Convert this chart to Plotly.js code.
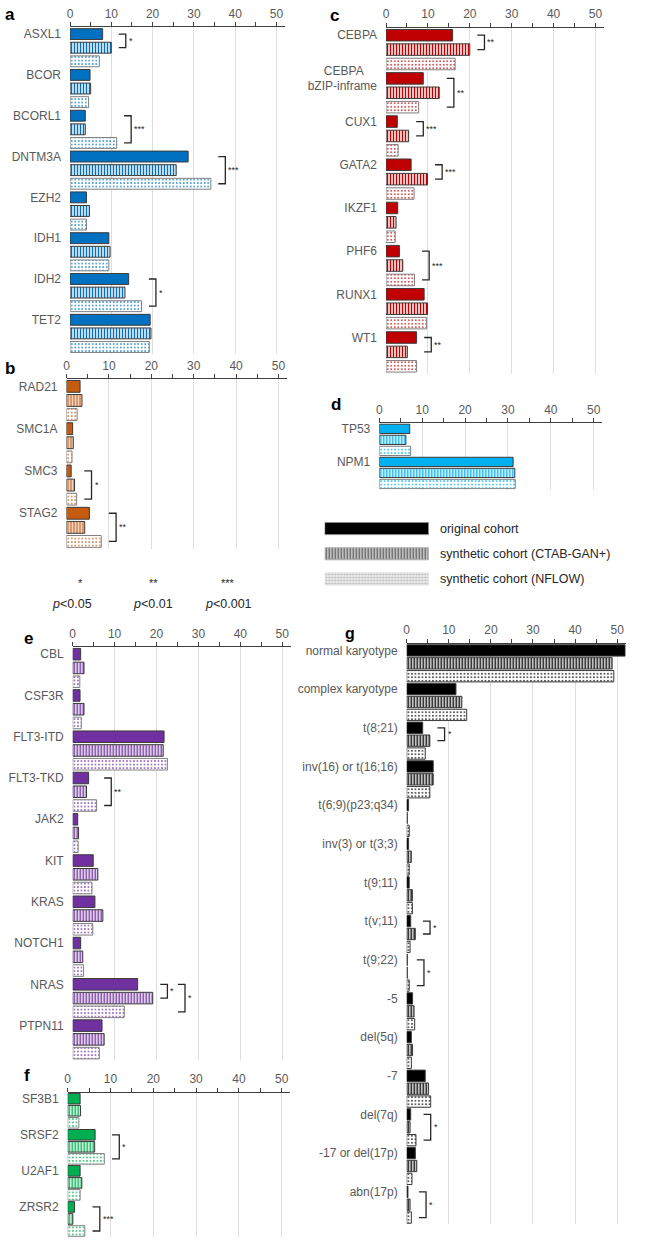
<!DOCTYPE html>
<html><head><meta charset="utf-8">
<script src="https://cdn.plot.ly/plotly-3.0.1.min.js"></script>
<style>html,body{margin:0;padding:0;background:#fff}</style>
</head><body><div id="chart" style="width:645px;height:1249px"></div>
<script>
// ---------- DATA ----------
const seriesNames = ['original cohort', 'synthetic cohort (CTAB-GAN+)', 'synthetic cohort (NFLOW)'];
const seriesKeys = ['original', 'CTAB-GAN+', 'NFLOW'];

const aCategories = ['ASXL1', 'BCOR', 'BCORL1', 'DNTM3A', 'EZH2', 'IDH1', 'IDH2', 'TET2'];
const aOriginal = [7.9, 4.85, 3.7, 28.6, 4.0, 9.4, 14.2, 19.4];
const aCtabGan  = [10.0, 5.0, 3.7, 25.7, 4.7, 9.7, 13.3, 19.6];
const aNflow    = [7.1, 4.5, 11.3, 34.1, 4.0, 9.4, 17.3, 19.2];
const aSignificance = [['ASXL1', 'CTAB-GAN+', '*'], ['BCORL1', 'NFLOW', '***'], ['DNTM3A', 'NFLOW', '***'], ['IDH2', 'NFLOW', '*']];

const bCategories = ['RAD21', 'SMC1A', 'SMC3', 'STAG2'];
const bOriginal = [3.2, 1.45, 1.1, 5.4];
const bCtabGan  = [3.65, 1.6, 1.9, 4.3];
const bNflow    = [2.5, 1.3, 2.4, 8.2];
const bSignificance = [['SMC3', 'NFLOW', '*'], ['STAG2', 'NFLOW', '**']];

const cCategories = ['CEBPA', 'CEBPA bZIP-inframe', 'CUX1', 'GATA2', 'IKZF1', 'PHF6', 'RUNX1', 'WT1'];
const cTickLabels = ['CEBPA', 'CEBPA\u00a0\u00a0\u00a0\u00a0<br>bZIP-inframe', 'CUX1', 'GATA2', 'IKZF1', 'PHF6', 'RUNX1', 'WT1'];
const cOriginal = [15.9, 8.9, 2.7, 6.0, 2.8, 3.2, 9.1, 7.3];
const cCtabGan  = [20.0, 12.7, 5.4, 9.9, 2.4, 4.0, 9.9, 5.1];
const cNflow    = [16.5, 7.8, 2.9, 6.7, 2.2, 6.8, 9.7, 7.3];
const cSignificance = [['CEBPA', 'CTAB-GAN+', '**'], ['CEBPA bZIP-inframe', 'NFLOW', '**'], ['CUX1', 'CTAB-GAN+', '***'], ['GATA2', 'CTAB-GAN+', '***'], ['PHF6', 'NFLOW', '***'], ['WT1', 'CTAB-GAN+', '**']];

const dCategories = ['TP53', 'NPM1'];
const dOriginal = [7.1, 31.2];
const dCtabGan  = [6.2, 31.6];
const dNflow    = [7.3, 31.7];
const dSignificance = [];

const eCategories = ['CBL', 'CSF3R', 'FLT3-ITD', 'FLT3-TKD', 'JAK2', 'KIT', 'KRAS', 'NOTCH1', 'NRAS', 'PTPN11'];
const eOriginal = [1.9, 1.75, 21.8, 3.8, 1.2, 4.9, 5.3, 1.9, 15.5, 7.0];
const eCtabGan  = [2.7, 2.7, 21.6, 3.3, 1.4, 6.0, 7.2, 2.4, 19.1, 7.5];
const eNflow    = [1.7, 2.05, 22.6, 5.7, 1.3, 4.6, 4.8, 2.6, 12.3, 6.35];
const eSignificance = [['FLT3-TKD', 'NFLOW', '**'], ['NRAS', 'CTAB-GAN+', '*'], ['NRAS', 'NFLOW', '*']];

const fCategories = ['SF3B1', 'SRSF2', 'U2AF1', 'ZRSR2'];
const fOriginal = [2.9, 6.4, 2.9, 1.6];
const fCtabGan  = [3.0, 6.3, 3.3, 1.2];
const fNflow    = [2.6, 8.55, 2.9, 4.0];
const fSignificance = [['SRSF2', 'NFLOW', '*'], ['ZRSR2', 'NFLOW', '***']];

const gCategories = ['normal karyotype', 'complex karyotype', 't(8;21)', 'inv(16) or t(16;16)', 't(6;9)(p23;q34)', 'inv(3) or t(3;3)', 't(9;11)', 't(v;11)', 't(9;22)', '-5', 'del(5q)', '-7', 'del(7q)', '-17 or del(17p)', 'abn(17p)'];
const gOriginal = [51.9, 11.7, 3.8, 6.3, 0.45, 0.45, 0.6, 0.95, 0.15, 1.4, 1.1, 4.4, 0.95, 2.05, 0.3];
const gCtabGan  = [48.8, 13.1, 5.5, 6.3, 0.15, 1.1, 1.35, 2.05, 0.15, 1.75, 1.4, 5.2, 0.8, 2.4, 0.8];
const gNflow    = [49.2, 14.25, 4.4, 5.5, 0.6, 0.6, 1.35, 0.8, 0.6, 1.9, 1.1, 5.7, 2.2, 1.25, 1.1];
const gSignificance = [['t(8;21)', 'CTAB-GAN+', '*'], ['t(v;11)', 'CTAB-GAN+', '*'], ['t(9;22)', 'NFLOW', '*'], ['del(7q)', 'NFLOW', '*'], ['abn(17p)', 'NFLOW', '*']];

const pStars = ['*', '**', '***'];
const pLabels = ['<i>p</i>&lt;0.05', '<i>p</i>&lt;0.01', '<i>p</i>&lt;0.001'];

// ---------- LAYOUT GEOMETRY (pixels) ----------
const W = 645, H = 1249;
const FONT = 'Liberation Sans, Arial, Helvetica, sans-serif';
const panels = [
  {id: 'a', cats: aCategories, vals: [aOriginal, aCtabGan, aNflow], sig: aSignificance, color: '#0070c0', x0: 70, x1: 284.8, top: 27.3, bot: 353.8, bw: 0.8, lx: 3, ly: 15},
  {id: 'b', cats: bCategories, vals: [bOriginal, bCtabGan, bNflow], sig: bSignificance, color: '#c55a11', x0: 66.5, x1: 287, top: 379.3, bot: 548.5, bw: 0.84, lx: 3, ly: 368},
  {id: 'c', cats: cCategories, labels: cTickLabels, vals: [cOriginal, cCtabGan, cNflow], sig: cSignificance, color: '#c00000', x0: 386, x1: 603.9, top: 28, bot: 373.5, bw: 0.8, lx: 328, ly: 16},
  {id: 'd', cats: dCategories, vals: [dOriginal, dCtabGan, dNflow], sig: dSignificance, color: '#00b0f0', x0: 379.3, x1: 602.3, top: 423.3, bot: 489.5, bw: 0.84, lx: 329, ly: 405},
  {id: 'e', cats: eCategories, vals: [eOriginal, eCtabGan, eNflow], sig: eSignificance, color: '#7030a0', x0: 72.7, x1: 290.6, top: 647.3, bot: 1060, bw: 0.84, lx: 22, ly: 638},
  {id: 'f', cats: fCategories, vals: [fOriginal, fCtabGan, fNflow], sig: fSignificance, color: '#00b050', x0: 67.7, x1: 290.3, top: 1092.7, bot: 1237, bw: 0.88, lx: 22, ly: 1075},
  {id: 'g', cats: gCategories, vals: [gOriginal, gCtabGan, gNflow], sig: gSignificance, color: '#000000', x0: 406.7, x1: 625.6, top: 644, bot: 1224, bw: 0.88, lx: 343, ly: 633, lsize: 16}
];

function markerFor(c, j) {
  const dark = '#3a3a3a';
  if (j === 0) return {color: c, line: {color: dark, width: 1}};
  if (j === 1) return {color: 'white', pattern: {shape: '|', fgcolor: c, bgcolor: 'white', size: 3, solidity: 0.5}, line: {color: dark, width: 1}};
  return {color: 'white', pattern: {shape: '.', fgcolor: c, bgcolor: 'white', size: 3.5, solidity: 0.22, fgopacity: 0.8}, line: {color: c === '#000000' ? dark : '#808080', width: 1}};
}

const traces = [], shapes = [], annotations = [];
const layout = {
  width: W, height: H, margin: {l: 0, r: 0, t: 0, b: 0},
  showlegend: false, barmode: 'overlay',
  paper_bgcolor: 'white', plot_bgcolor: 'rgba(0,0,0,0)',
  font: {family: FONT, size: 12, color: '#595959'},
  hovermode: false
};

panels.forEach((p, k) => {
  const n = k + 1;
  const s = n === 1 ? '' : String(n);
  const xa = 'x' + s, ya = 'y' + s;
  layout['xaxis' + s] = {
    domain: [p.x0 / W, p.x1 / W], anchor: ya, side: 'top', range: [0, 52],
    tickmode: 'linear', tick0: 0, dtick: 10,
    ticks: 'outside', ticklen: 4, tickcolor: '#404040', tickwidth: 1,
    minor: {tick0: 0, dtick: 5, ticks: 'outside', ticklen: 4, tickcolor: '#404040', tickwidth: 1, showgrid: false},
    showline: true, linecolor: '#404040', linewidth: 1,
    showgrid: true, gridcolor: '#dedede', gridwidth: 1, zeroline: false,
    tickfont: {family: FONT, size: 12, color: '#595959'}, fixedrange: true
  };
  const nc = p.cats.length;
  layout['yaxis' + s] = {
    domain: [1 - p.bot / H, 1 - p.top / H], anchor: xa,
    range: [3 * nc - 0.5, -0.5],
    tickmode: 'array', tickvals: p.cats.map((_, i) => 3 * i), ticktext: p.labels || p.cats,
    ticks: '', showgrid: false, zeroline: false, showline: false,
    tickfont: {family: FONT, size: 12, color: '#595959'}, ticklabelstandoff: 8, fixedrange: true
  };
  p.vals.forEach((arr, j) => {
    traces.push({
      type: 'bar', orientation: 'h', name: seriesNames[j],
      x: arr, y: p.cats.map((_, i) => 3 * i + j), width: p.bw,
      xaxis: xa, yaxis: ya, marker: markerFor(p.color, j), hoverinfo: 'skip'
    });
  });
  // significance brackets
  const level = {};
  p.sig.forEach(([cat, vsKey, stars]) => {
    const i = p.cats.indexOf(cat);
    const vs = seriesKeys.indexOf(vsKey);
    const lv = level[i] || 0; level[i] = lv + 1;
    let m = 0;
    for (let j = 0; j <= vs; j++) m = Math.max(m, p.vals[j][i]);
    const xArm = m + 1.8 + lv * 4.2, xV = xArm + 1.7;
    const y1 = 3 * i, y2 = 3 * i + vs;
    shapes.push({type: 'path', xref: xa, yref: ya,
      path: `M${xArm},${y1}L${xV},${y1}L${xV},${y2}L${xArm},${y2}`,
      line: {color: '#262626', width: 1.3}});
    annotations.push({xref: xa, yref: ya, x: xV, y: (y1 + y2) / 2, text: stars, showarrow: false,
      xanchor: 'left', yanchor: 'middle', xshift: 1, font: {family: FONT, size: 9, color: '#262626'}});
  });
  // panel letter
  annotations.push({xref: 'paper', yref: 'paper', x: p.lx / W, y: 1 - p.ly / H, text: p.id, showarrow: false,
    xanchor: 'left', yanchor: 'middle', font: {family: FONT, size: p.lsize || 17, color: '#000', weight: 'bold'}});
});

// legend panel
const lgN = panels.length + 1, lgS = String(lgN);
layout['xaxis' + lgS] = {domain: [324.7 / W, 428.7 / W], anchor: 'y' + lgS, range: [0, 1], visible: false, fixedrange: true};
layout['yaxis' + lgS] = {domain: [1 - 591.5 / H, 1 - 516 / H], anchor: 'x' + lgS, range: [2.5, -0.5], visible: false, fixedrange: true};
const legendMarkers = [
  {color: '#000000', line: {color: '#8a8a8a', width: 1}},
  {color: '#d9d9d9', pattern: {shape: '|', fgcolor: '#5a5a5a', bgcolor: '#dcdcdc', size: 3, solidity: 0.5}, line: {color: '#b0b0b0', width: 1}},
  {color: '#eeeeee', pattern: {shape: '.', fgcolor: '#b8b8b8', bgcolor: '#efefef', size: 3, solidity: 0.4}, line: {color: '#e0e0e0', width: 1}}
];
seriesNames.forEach((nm, j) => {
  traces.push({type: 'bar', orientation: 'h', name: nm, x: [1], y: [j], width: 0.48,
    xaxis: 'x' + lgS, yaxis: 'y' + lgS, marker: legendMarkers[j], hoverinfo: 'skip'});
  annotations.push({xref: 'paper', yref: 'y' + lgS, x: 438 / W, y: j, text: nm, showarrow: false,
    xanchor: 'left', yanchor: 'middle', font: {family: FONT, size: 12.5, color: '#262626'}});
});

// p-value key
const keyX = [80, 153.3, 228];
const keyLX = [72.3, 153.3, 228.7];
pStars.forEach((st, k) => {
  annotations.push({xref: 'paper', yref: 'paper', x: keyX[k] / W, y: 1 - 583 / H, text: st, showarrow: false,
    xanchor: 'center', yanchor: 'middle', font: {family: FONT, size: 11, color: '#262626'}});
  annotations.push({xref: 'paper', yref: 'paper', x: keyLX[k] / W, y: 1 - 603.5 / H, text: pLabels[k], showarrow: false,
    xanchor: 'center', yanchor: 'middle', font: {family: FONT, size: 12.5, color: '#262626'}});
});

layout.shapes = shapes;
layout.annotations = annotations;
Plotly.newPlot('chart', traces, layout, {staticPlot: true, displayModeBar: false});
</script></body></html>
